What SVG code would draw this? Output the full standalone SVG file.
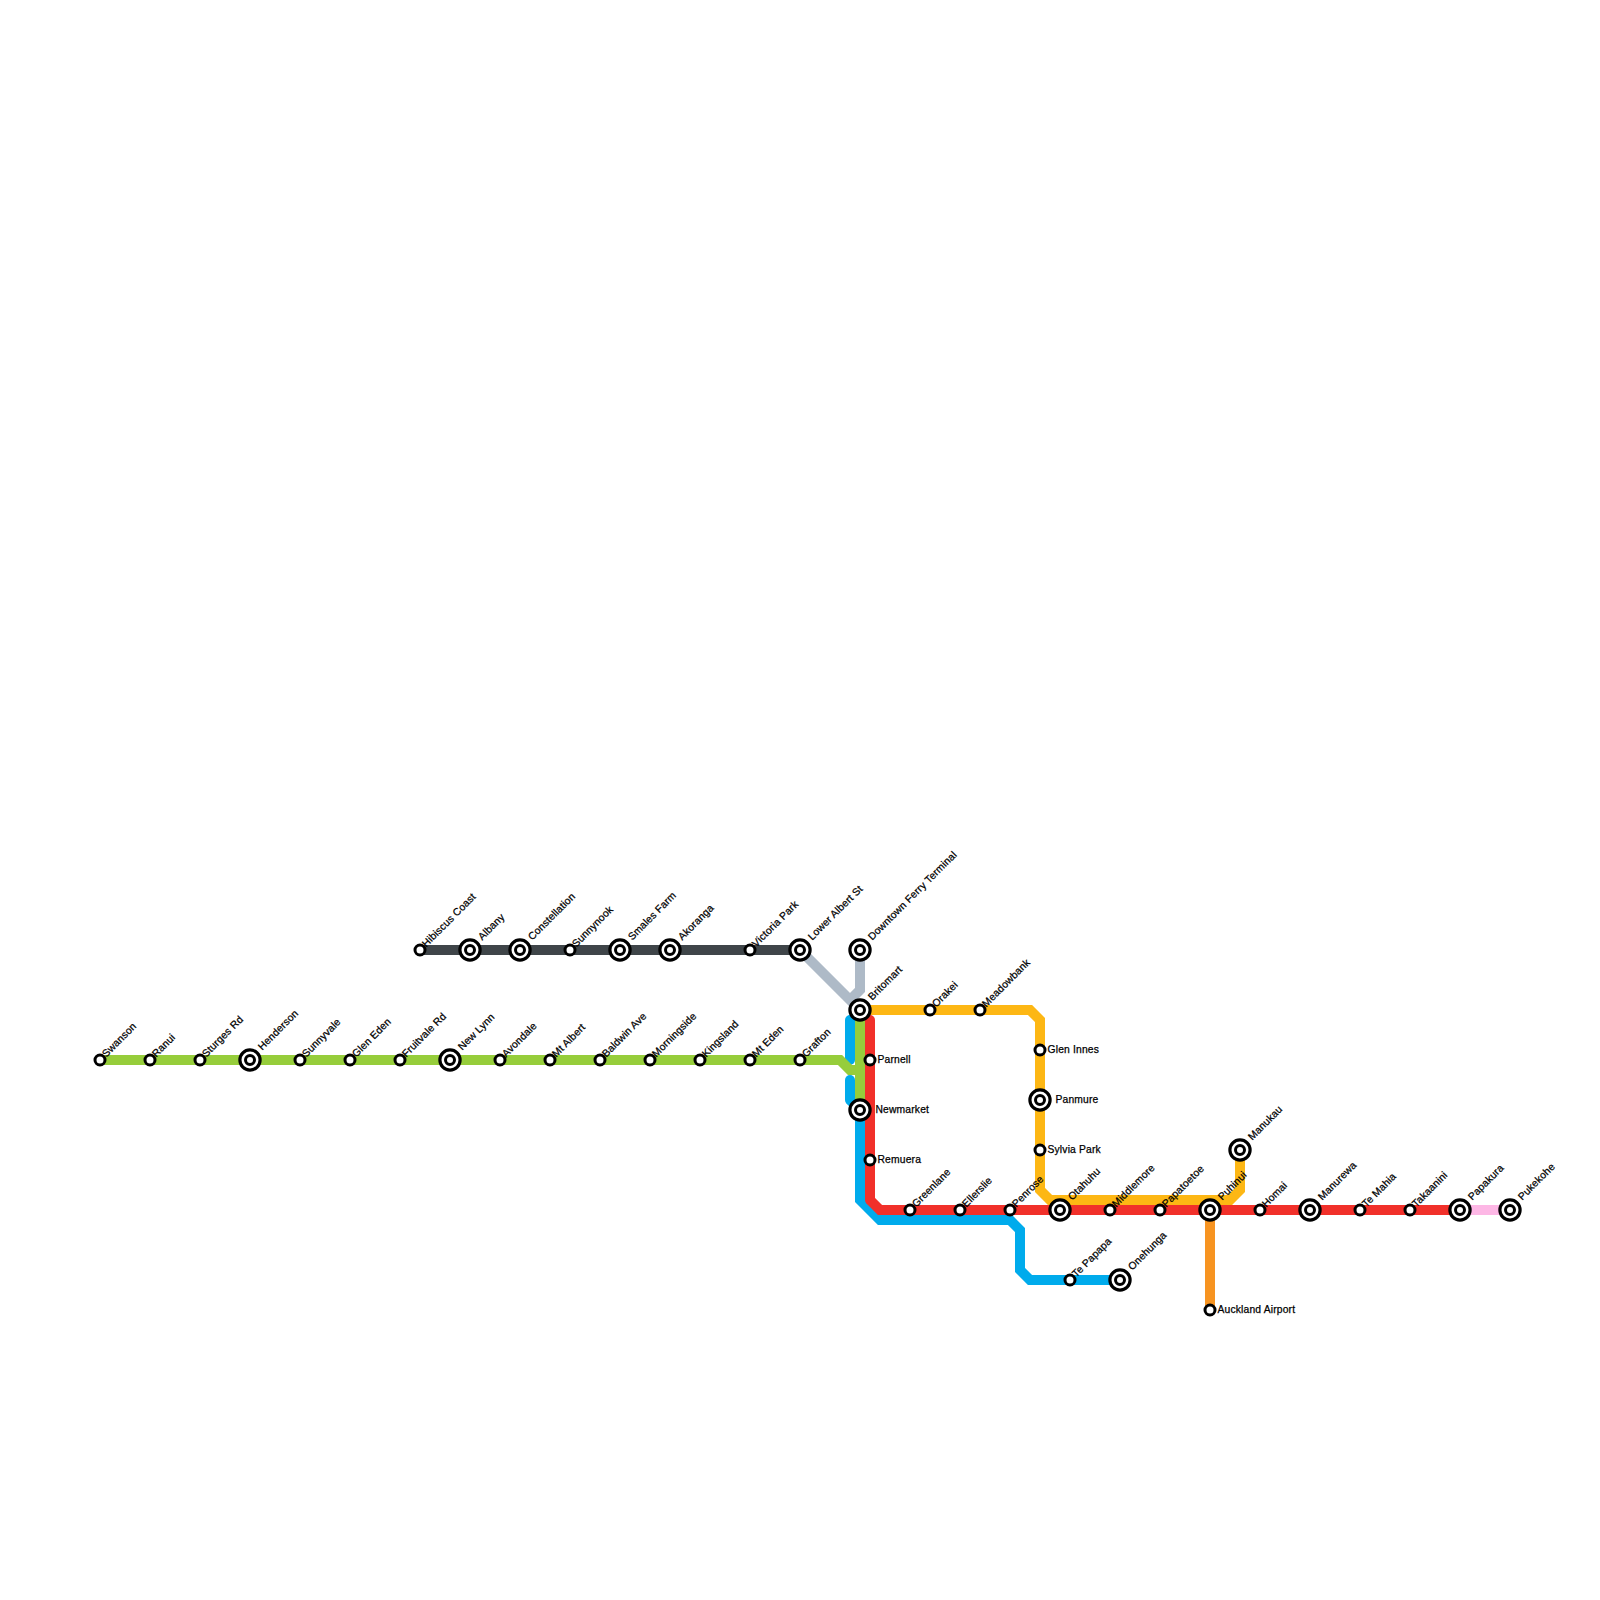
<svg xmlns="http://www.w3.org/2000/svg" width="1600" height="1600" viewBox="0 0 1600 1600">
<style>
.l{fill:none;stroke-width:10;stroke-linejoin:miter}
.r{stroke-linecap:round}
.o{fill:#fff;stroke:#000;stroke-width:3.2}
.i{fill:#fff;stroke:#000;stroke-width:3}
.s{fill:#fff;stroke:#000;stroke-width:3}
text{font-family:"Liberation Sans",Arial,sans-serif;font-size:10.3px;letter-spacing:.17px;fill:#000;stroke:#000;stroke-width:.25}
</style>
<defs>
<g id="big"><circle class="o" r="10.1"/><circle class="i" r="4.5"/></g>
<circle id="small" class="s" r="5"/>
</defs>
<rect width="1600" height="1600" fill="#fff"/>
<g id="connectors">
<path class="l" stroke="#AEBAC7" d="M800 950L850 1000L860 990V950"/>
<path class="l" stroke="#3F4549" d="M420 950H800"/>
<path class="l r" stroke="#00ABEC" d="M850 1020V1060"/>
<path class="l r" stroke="#00ABEC" d="M850 1080V1100"/>
<path class="l" stroke="#00ABEC" d="M850 1100L860 1110V1200L880 1220H1010L1020 1230V1270L1030 1280H1120"/>
<path class="l" stroke="#96CD3B" d="M100 1060H840L850 1070H860"/>
<path class="l" stroke="#96CD3B" d="M860 1010V1110"/>
<path class="l" stroke="#FDB714" d="M860 1010H1030L1040 1020V1190L1050 1200H1230L1240 1190V1150"/>
<path class="l r" stroke="#F1302A" d="M870 1020V1200"/>
<path class="l" stroke="#F1302A" d="M870 1200L880 1210H1460"/>
<path class="l" stroke="#F79421" d="M1210 1210V1310"/>
<path class="l" stroke="#FDB7E5" d="M1460 1210H1510"/>
</g>
<g id="swanson"><use href="#small" x="100" y="1060"/><text transform="translate(106.2 1057.7) rotate(-45)">Swanson</text></g>
<g id="ranui"><use href="#small" x="150" y="1060"/><text transform="translate(156.2 1057.7) rotate(-45)">Ranui</text></g>
<g id="sturges-rd"><use href="#small" x="200" y="1060"/><text transform="translate(206.2 1057.7) rotate(-45)">Sturges Rd</text></g>
<g id="henderson"><use href="#big" x="250" y="1060"/><text transform="translate(262.2 1050.7) rotate(-45)">Henderson</text></g>
<g id="sunnyvale"><use href="#small" x="300" y="1060"/><text transform="translate(306.2 1057.7) rotate(-45)">Sunnyvale</text></g>
<g id="glen-eden"><use href="#small" x="350" y="1060"/><text transform="translate(356.2 1057.7) rotate(-45)">Glen Eden</text></g>
<g id="fruitvale-rd"><use href="#small" x="400" y="1060"/><text transform="translate(406.2 1057.7) rotate(-45)">Fruitvale Rd</text></g>
<g id="new-lynn"><use href="#big" x="450" y="1060"/><text transform="translate(462.2 1050.7) rotate(-45)">New Lynn</text></g>
<g id="avondale"><use href="#small" x="500" y="1060"/><text transform="translate(506.2 1057.7) rotate(-45)">Avondale</text></g>
<g id="mt-albert"><use href="#small" x="550" y="1060"/><text transform="translate(556.2 1057.7) rotate(-45)">Mt Albert</text></g>
<g id="baldwin-ave"><use href="#small" x="600" y="1060"/><text transform="translate(606.2 1057.7) rotate(-45)">Baldwin Ave</text></g>
<g id="morningside"><use href="#small" x="650" y="1060"/><text transform="translate(656.2 1057.7) rotate(-45)">Morningside</text></g>
<g id="kingsland"><use href="#small" x="700" y="1060"/><text transform="translate(706.2 1057.7) rotate(-45)">Kingsland</text></g>
<g id="mt-eden"><use href="#small" x="750" y="1060"/><text transform="translate(756.2 1057.7) rotate(-45)">Mt Eden</text></g>
<g id="grafton"><use href="#small" x="800" y="1060"/><text transform="translate(806.2 1057.7) rotate(-45)">Grafton</text></g>
<g id="hibiscus-coast"><use href="#small" x="420" y="950"/><text transform="translate(426.2 947.7) rotate(-45)">Hibiscus Coast</text></g>
<g id="albany"><use href="#big" x="470" y="950"/><text transform="translate(482.2 940.7) rotate(-45)">Albany</text></g>
<g id="constellation"><use href="#big" x="520" y="950"/><text transform="translate(532.2 940.7) rotate(-45)">Constellation</text></g>
<g id="sunnynook"><use href="#small" x="570" y="950"/><text transform="translate(576.2 947.7) rotate(-45)">Sunnynook</text></g>
<g id="smales-farm"><use href="#big" x="620" y="950"/><text transform="translate(632.2 940.7) rotate(-45)">Smales Farm</text></g>
<g id="akoranga"><use href="#big" x="670" y="950"/><text transform="translate(682.2 940.7) rotate(-45)">Akoranga</text></g>
<g id="victoria-park"><use href="#small" x="750" y="950"/><text transform="translate(756.2 947.7) rotate(-45)">Victoria Park</text></g>
<g id="lower-albert-st"><use href="#big" x="800" y="950"/><text transform="translate(812.2 940.7) rotate(-45)">Lower Albert St</text></g>
<g id="downtown-ferry-terminal"><use href="#big" x="860" y="950"/><text transform="translate(872.2 940.7) rotate(-45)">Downtown Ferry Terminal</text></g>
<g id="britomart"><use href="#big" x="860" y="1010"/><text transform="translate(872.2 1000.7) rotate(-45)">Britomart</text></g>
<g id="orakei"><use href="#small" x="930" y="1010"/><text transform="translate(936.2 1007.7) rotate(-45)">Orakei</text></g>
<g id="meadowbank"><use href="#small" x="980" y="1010"/><text transform="translate(986.2 1007.7) rotate(-45)">Meadowbank</text></g>
<g id="glen-innes"><use href="#small" x="1040" y="1050"/><text x="1047.5" y="1053">Glen Innes</text></g>
<g id="panmure"><use href="#big" x="1040" y="1100"/><text x="1055.5" y="1103">Panmure</text></g>
<g id="sylvia-park"><use href="#small" x="1040" y="1150"/><text x="1047.5" y="1153">Sylvia Park</text></g>
<g id="parnell"><use href="#small" x="870" y="1060"/><text x="877.5" y="1063">Parnell</text></g>
<g id="newmarket"><use href="#big" x="860" y="1110"/><text x="875.5" y="1113">Newmarket</text></g>
<g id="remuera"><use href="#small" x="870" y="1160"/><text x="877.5" y="1163">Remuera</text></g>
<g id="greenlane"><use href="#small" x="910" y="1210"/><text transform="translate(916.2 1207.7) rotate(-45)">Greenlane</text></g>
<g id="ellerslie"><use href="#small" x="960" y="1210"/><text transform="translate(966.2 1207.7) rotate(-45)">Ellerslie</text></g>
<g id="penrose"><use href="#small" x="1010" y="1210"/><text transform="translate(1016.2 1207.7) rotate(-45)">Penrose</text></g>
<g id="otahuhu"><use href="#big" x="1060" y="1210"/><text transform="translate(1072.2 1200.7) rotate(-45)">Otahuhu</text></g>
<g id="middlemore"><use href="#small" x="1110" y="1210"/><text transform="translate(1116.2 1207.7) rotate(-45)">Middlemore</text></g>
<g id="papatoetoe"><use href="#small" x="1160" y="1210"/><text transform="translate(1166.2 1207.7) rotate(-45)">Papatoetoe</text></g>
<g id="puhinui"><use href="#big" x="1210" y="1210"/><text transform="translate(1222.2 1200.7) rotate(-45)">Puhinui</text></g>
<g id="homai"><use href="#small" x="1260" y="1210"/><text transform="translate(1266.2 1207.7) rotate(-45)">Homai</text></g>
<g id="manurewa"><use href="#big" x="1310" y="1210"/><text transform="translate(1322.2 1200.7) rotate(-45)">Manurewa</text></g>
<g id="te-mahia"><use href="#small" x="1360" y="1210"/><text transform="translate(1366.2 1207.7) rotate(-45)">Te Mahia</text></g>
<g id="takaanini"><use href="#small" x="1410" y="1210"/><text transform="translate(1416.2 1207.7) rotate(-45)">Takaanini</text></g>
<g id="papakura"><use href="#big" x="1460" y="1210"/><text transform="translate(1472.2 1200.7) rotate(-45)">Papakura</text></g>
<g id="pukekohe"><use href="#big" x="1510" y="1210"/><text transform="translate(1522.2 1200.7) rotate(-45)">Pukekohe</text></g>
<g id="manukau"><use href="#big" x="1240" y="1150"/><text transform="translate(1252.2 1140.7) rotate(-45)">Manukau</text></g>
<g id="te-papapa"><use href="#small" x="1070" y="1280"/><text transform="translate(1076.2 1277.7) rotate(-45)">Te Papapa</text></g>
<g id="onehunga"><use href="#big" x="1120" y="1280"/><text transform="translate(1132.2 1270.7) rotate(-45)">Onehunga</text></g>
<g id="auckland-airport"><use href="#small" x="1210" y="1310"/><text x="1217.5" y="1313">Auckland Airport</text></g>
</svg>
